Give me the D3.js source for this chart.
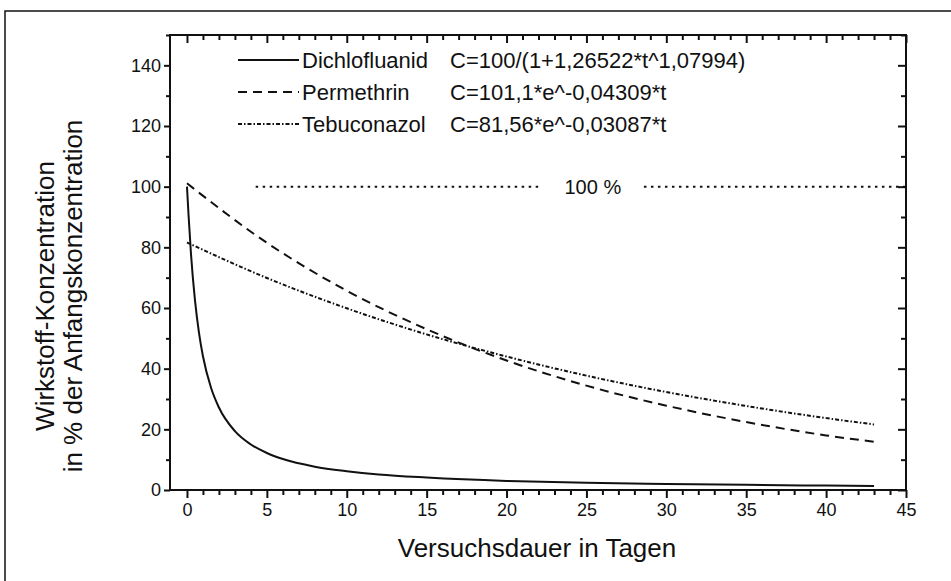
<!DOCTYPE html>
<html>
<head>
<meta charset="utf-8">
<script src="https://cdn.jsdelivr.net/npm/d3@7/dist/d3.min.js"></script>
<style>
  body { margin: 0; background: #fff; }
  text { font-family: "Liberation Sans", Arial, sans-serif; fill: #111; }
</style>
</head>
<body>
<svg id="chart" width="951" height="581"></svg>
<script>
// Sampled concentrations (% of initial) over test duration in days
const dichloDays = [0, 0.1, 0.25, 0.5, 0.75, 1, 1.5, 2, 3, 4, 5, 6, 8, 10, 12, 15, 20, 25, 30, 35, 40, 43];
const dichlofluanid = [100, 90.5, 77.9, 62.6, 51.9, 44.1, 33.8, 27.2, 19.4, 15.0, 12.2, 10.2, 7.7, 6.2, 5.1, 4.1, 3.0, 2.4, 2.0, 1.7, 1.45, 1.34];
const expDays = [0, 5, 10, 15, 20, 25, 30, 35, 40, 43];
const permethrin = [101.1, 81.5, 65.7, 53.0, 42.7, 34.4, 27.8, 22.4, 18.0, 15.9];
const tebuconazol = [81.6, 69.9, 59.9, 51.3, 44.0, 37.7, 32.3, 27.7, 23.7, 21.6];

const seriesNames = ["Dichlofluanid", "Permethrin", "Tebuconazol"];
const seriesFormulas = ["C=100/(1+1,26522*t^1,07994)", "C=101,1*e^-0,04309*t", "C=81,56*e^-0,03087*t"];
const seriesDash = [null, "9,6", "4,2,1.5,2"];

const xTicks = [0, 5, 10, 15, 20, 25, 30, 35, 40, 45];
const yTicks = [0, 20, 40, 60, 80, 100, 120, 140];
const refLevel = 100;
const refLabel = "100 %";

const xTitle = "Versuchsdauer in Tagen";
const yTitle = ["Wirkstoff-Konzentration", "in % der Anfangskonzentration"];

const svg = d3.select("#chart");
const ink = "#111";

// outer frame
svg.append("rect").attr("x", 5).attr("y", 11).attr("width", 1000).attr("height", 700)
  .attr("fill", "none").attr("stroke", ink).attr("stroke-width", 1.5);

const plotL = 170, plotR = 906, plotT = 35, plotB = 490;
const x = d3.scaleLinear().domain([-1.0625, 45]).range([plotL, plotR]);
const y = d3.scaleLinear().domain([0, 150]).range([plotB, plotT]);

const minorX = d3.range(0, 46).filter(d => d % 5 !== 0);
const minorY = d3.range(10, 151, 20);

function styleAxis(g) {
  g.select(".domain").remove();
  g.selectAll(".tick line").attr("stroke", ink).attr("stroke-width", 2);
  g.selectAll(".tick text").attr("fill", ink);
}

// bottom axis (outward ticks)
svg.append("g").attr("transform", `translate(0,${plotB})`)
  .call(d3.axisBottom(x).tickValues(xTicks).tickSize(8).tickPadding(5).tickFormat(d3.format("d")))
  .call(styleAxis)
  .call(g => g.selectAll(".tick text").style("font-size", "18px"));
svg.append("g").attr("transform", `translate(0,${plotB})`)
  .call(d3.axisBottom(x).tickValues(minorX).tickSize(5).tickFormat(""))
  .call(styleAxis);

// top axis (ticks pointing into the plot)
svg.append("g").attr("transform", `translate(0,${plotT})`)
  .call(d3.axisBottom(x).tickValues(xTicks).tickSize(8).tickFormat(""))
  .call(styleAxis);
svg.append("g").attr("transform", `translate(0,${plotT})`)
  .call(d3.axisBottom(x).tickValues(minorX).tickSize(5).tickFormat(""))
  .call(styleAxis);

// left axis (outward ticks)
svg.append("g").attr("transform", `translate(${plotL},0)`)
  .call(d3.axisLeft(y).tickValues(yTicks).tickSize(6).tickPadding(3).tickFormat(d3.format("d")))
  .call(styleAxis)
  .call(g => g.selectAll(".tick text").style("font-size", "18px"));
svg.append("g").attr("transform", `translate(${plotL},0)`)
  .call(d3.axisLeft(y).tickValues(minorY).tickSize(4).tickFormat(""))
  .call(styleAxis);

// right axis (ticks pointing into the plot)
svg.append("g").attr("transform", `translate(${plotR},0)`)
  .call(d3.axisLeft(y).tickValues(yTicks).tickSize(8).tickFormat(""))
  .call(styleAxis);
svg.append("g").attr("transform", `translate(${plotR},0)`)
  .call(d3.axisLeft(y).tickValues(minorY).tickSize(5).tickFormat(""))
  .call(styleAxis);

// plot frame
svg.append("rect").attr("x", plotL).attr("y", plotT).attr("width", plotR - plotL).attr("height", plotB - plotT)
  .attr("fill", "none").attr("stroke", ink).attr("stroke-width", 2);

// 100 % reference line, split around its label
const refY = y(refLevel);
[[4.3, 22.2], [28.6, 45]].forEach(([a, b]) => {
  svg.append("line").attr("x1", x(a)).attr("x2", x(b)).attr("y1", refY).attr("y2", refY)
    .attr("stroke", ink).attr("stroke-width", 2).attr("stroke-dasharray", "2.5,4.5");
});
svg.append("text").attr("x", x(25.4)).attr("y", refY).attr("dy", "0.36em")
  .attr("text-anchor", "middle").style("font-size", "20px").text(refLabel);

// curves
const line = d3.line().curve(d3.curveMonotoneX).x(d => x(d[0])).y(d => y(d[1]));
const curves = [
  d3.zip(dichloDays, dichlofluanid),
  d3.zip(expDays, permethrin),
  d3.zip(expDays, tebuconazol)
];
curves.forEach((pts, i) => {
  svg.append("path").datum(pts).attr("d", line)
    .attr("fill", "none").attr("stroke", ink).attr("stroke-width", 2)
    .attr("stroke-dasharray", seriesDash[i]);
});

// legend
const legY = [60, 92, 124];
seriesNames.forEach((name, i) => {
  svg.append("line").attr("x1", 238).attr("x2", 299).attr("y1", legY[i]).attr("y2", legY[i])
    .attr("stroke", ink).attr("stroke-width", 2).attr("stroke-dasharray", seriesDash[i]);
  svg.append("text").attr("x", 302).attr("y", legY[i]).attr("dy", "0.36em")
    .style("font-size", "22px").text(name);
  svg.append("text").attr("x", 450).attr("y", legY[i]).attr("dy", "0.36em")
    .style("font-size", "22px").text(seriesFormulas[i]);
});

// axis titles
svg.append("text").attr("x", 537).attr("y", 557)
  .attr("text-anchor", "middle").style("font-size", "26px").text(xTitle);
yTitle.forEach((t, i) => {
  svg.append("text").attr("transform", `translate(${54 + i * 28},296) rotate(-90)`)
    .attr("text-anchor", "middle").style("font-size", "26px").text(t);
});
</script>
</body>
</html>
